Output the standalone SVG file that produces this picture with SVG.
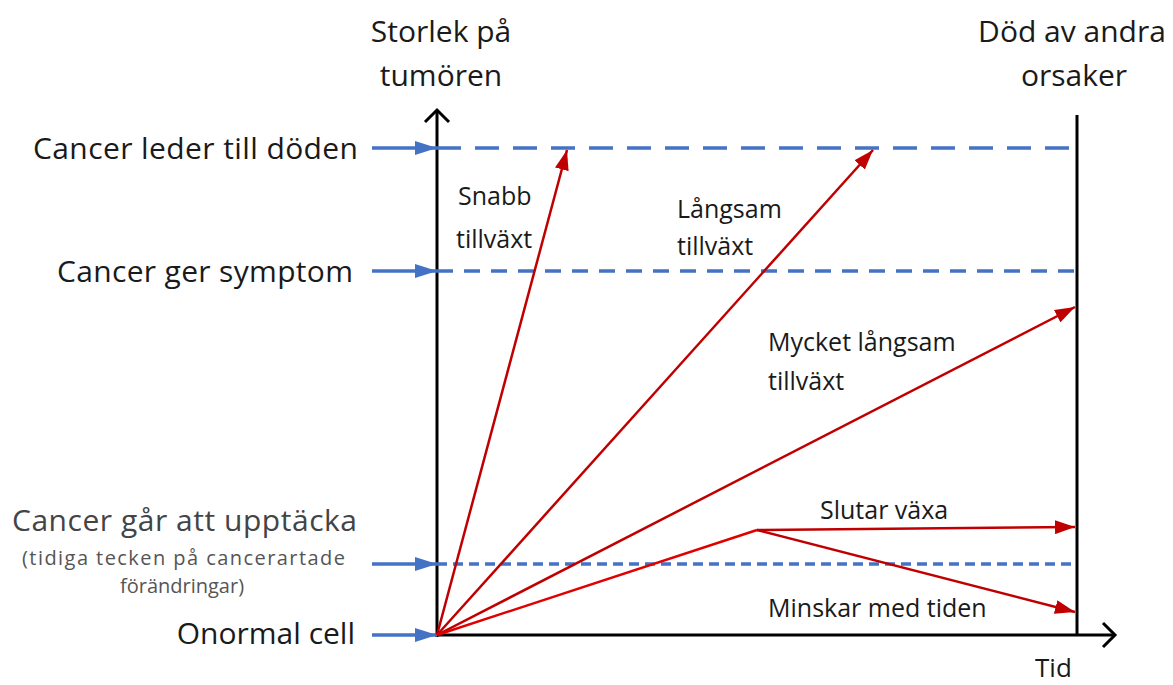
<svg xmlns="http://www.w3.org/2000/svg" width="1173" height="685" viewBox="0 0 1173 685">
<defs>
<marker id="red" markerWidth="20" markerHeight="14" refX="20" refY="7" orient="auto" markerUnits="userSpaceOnUse"><path d="M0,0 L20,7 L0,14 z" fill="#c00000"/></marker>
<marker id="blue" markerWidth="22" markerHeight="14" refX="22" refY="7" orient="auto" markerUnits="userSpaceOnUse"><path d="M0,0 L22,7 L0,14 z" fill="#4472c4"/></marker>
<marker id="ar" markerWidth="30" markerHeight="30" refX="15" refY="15" orient="auto" markerUnits="userSpaceOnUse"><path d="M3,3 L15,15 L3,27" fill="none" stroke="#000" stroke-width="3"/></marker>
<style>
text{font-family:"Open Sans","Liberation Sans",sans-serif;fill:#1a1a1a}
.big{font-size:30px}
.mid{font-size:25px}
.sm{font-size:20px;fill:#555}
.red{stroke:#c00000;stroke-width:2.5;fill:none}
.blu{stroke:#4472c4;stroke-width:3.5;fill:none}
.ax{stroke:#000;stroke-width:3;fill:none}
</style>
</defs>
<g id="connectors">
<line class="ax" x1="437" y1="637" x2="437" y2="110" marker-end="url(#ar)"/>
<line class="ax" x1="435" y1="635" x2="1115" y2="635" marker-end="url(#ar)"/>
<line class="ax" x1="1077" y1="115" x2="1077" y2="635"/>
<line class="blu" x1="437" y1="148" x2="1077" y2="148" stroke-dasharray="24 14"/>
<line class="blu" x1="437" y1="271" x2="1077" y2="271" stroke-dasharray="16 11"/>
<line class="blu" x1="437" y1="564" x2="1077" y2="564" stroke-dasharray="10 6"/>
<line class="blu" x1="372" y1="148" x2="437" y2="148" marker-end="url(#blue)"/>
<line class="blu" x1="372" y1="271" x2="437" y2="271" marker-end="url(#blue)"/>
<line class="blu" x1="372" y1="564" x2="437" y2="564" marker-end="url(#blue)"/>
<line class="blu" x1="372" y1="635" x2="437" y2="635" marker-end="url(#blue)"/>
<line class="red" x1="437" y1="635" x2="567" y2="150" marker-end="url(#red)"/>
<line class="red" x1="437" y1="635" x2="873" y2="150" marker-end="url(#red)"/>
<line class="red" x1="437" y1="635" x2="1075" y2="307" marker-end="url(#red)"/>
<line class="red" x1="437" y1="635" x2="757" y2="530" style="stroke:#e00000"/>
<line class="red" x1="757" y1="530" x2="1075" y2="527" marker-end="url(#red)"/>
<line class="red" x1="757" y1="530" x2="1075" y2="612" marker-end="url(#red)"/>
</g>
<g id="y-label"><text class="big" x="441" y="42" text-anchor="middle">Storlek på</text><text class="big" x="441" y="86" text-anchor="middle">tumören</text></g>
<g id="other-death"><text class="big" x="1072" y="42" text-anchor="middle">Död av andra</text><text class="big" x="1074" y="86" text-anchor="middle">orsaker</text></g>
<g id="l-death"><text class="big" x="358" y="159" text-anchor="end" textLength="325">Cancer leder till döden</text></g>
<g id="l-symptom"><text class="big" x="353" y="282" text-anchor="end" textLength="296">Cancer ger symptom</text></g>
<g id="l-detect"><text class="big" x="12" y="531" textLength="345" style="fill:#444">Cancer går att upptäcka</text><text class="sm" x="22" y="565" textLength="323">(tidiga tecken på cancerartade</text><text class="sm" x="182" y="593" text-anchor="middle">förändringar)</text></g>
<g id="l-cell"><text class="big" x="355" y="644" text-anchor="end">Onormal cell</text></g>
<g id="snabb"><text class="mid" x="458" y="205">Snabb</text><text class="mid" x="456" y="248">tillväxt</text></g>
<g id="langsam"><text class="mid" x="677" y="218">Långsam</text><text class="mid" x="677" y="255">tillväxt</text></g>
<g id="mycket"><text class="mid" x="768" y="351">Mycket långsam</text><text class="mid" x="768" y="390">tillväxt</text></g>
<g id="slutar"><text class="mid" x="820" y="519">Slutar växa</text></g>
<g id="minskar"><text class="mid" x="768" y="617">Minskar med tiden</text></g>
<g id="tid"><text class="big" x="1035" y="677" style="font-size:26px">Tid</text></g>
</svg>
